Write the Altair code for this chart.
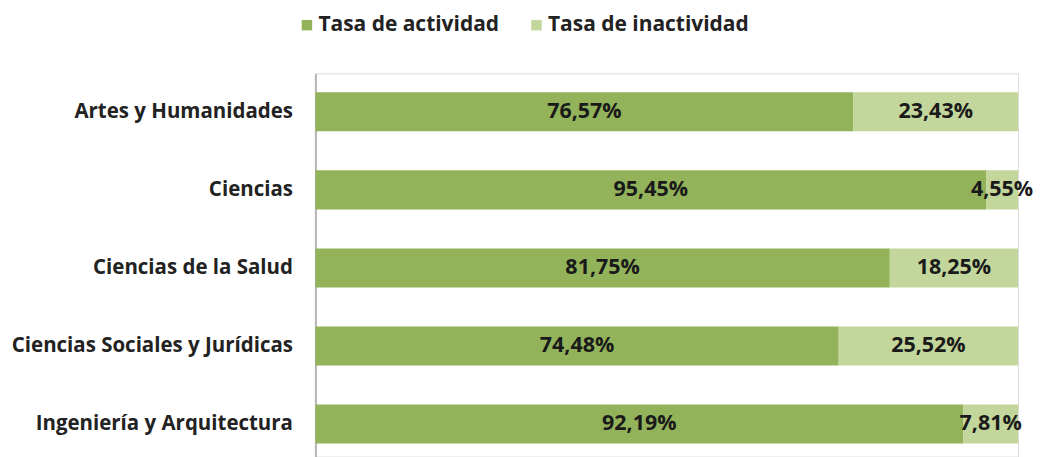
import altair as alt
import pandas as pd

categories = ["Artes y Humanidades", "Ciencias", "Ciencias de la Salud",
              "Ciencias Sociales y Jurídicas", "Ingeniería y Arquitectura"]
actividad = [76.57, 95.45, 81.75, 74.48, 92.19]
inactividad = [23.43, 4.55, 18.25, 25.52, 7.81]
series = ["Tasa de actividad", "Tasa de inactividad"]
colors = ["#93B35A", "#C3D69B"]

rows = []
for i, c in enumerate(categories):
    for j, (s, v) in enumerate(zip(series, [actividad[i], inactividad[i]])):
        rows.append({"cat": c, "serie": s, "order": j, "value": v,
                     "label": f"{v:.2f}".replace(".", ",") + "%"})
df = pd.DataFrame(rows)

FONT = "Open Sans"

y_enc = alt.Y("cat:N", sort=categories, title=None,
              scale=alt.Scale(range=[0, 390], paddingInner=0.5, paddingOuter=0.243),
              axis=alt.Axis(labelFont=FONT, labelFontSize=20.5, labelFontWeight="bold",
                            labelColor="#222222", labelPadding=23, ticks=False,
                            labelLimit=0,
                            domainColor="#b5b5b5", domainWidth=2, grid=False))
x_scale = alt.Scale(domain=[0, 100], nice=False, zero=True)

bars = alt.Chart(df).mark_bar().encode(
    y=y_enc,
    x=alt.X("value:Q", stack="zero", scale=x_scale, axis=None),
    color=alt.Color("serie:N", sort=series,
                    scale=alt.Scale(domain=series, range=colors),
                    legend=alt.Legend(title=None, orient="none", direction="horizontal",
                                      legendX=-19, legendY=-59,
                                      symbolType="square", symbolSize=110,
                                      symbolStrokeWidth=0, labelFont=FONT,
                                      labelFontSize=21, labelFontWeight="bold",
                                      labelColor="#222222", labelOffset=1,
                                      labelLimit=0, columnPadding=26)),
    order=alt.Order("order:Q"),
)

texts = alt.Chart(df).transform_stack(
    stack="value", groupby=["cat"], as_=["v0", "v1"],
    sort=[alt.SortField("order", order="ascending")]
).transform_calculate(
    mid="(datum.v0 + datum.v1) / 2"
).mark_text(font=FONT, fontSize=21.5, fontWeight="bold", color="#1a1a1a",
            align="center", baseline="middle").encode(
    y=alt.Y("cat:N", sort=categories),
    x=alt.X("mid:Q", scale=x_scale),
    text="label:N",
)

chart = alt.layer(bars, texts).properties(
    width=704, height=384,
    autosize=alt.AutoSizeParams(type="none"),
    padding={"left": 308, "top": 65, "right": 20, "bottom": 0},
).configure_view(strokeWidth=0, stroke="transparent").configure(background="white")

chart.save("out.html", embed_options={"renderer": "svg", "actions": False})
